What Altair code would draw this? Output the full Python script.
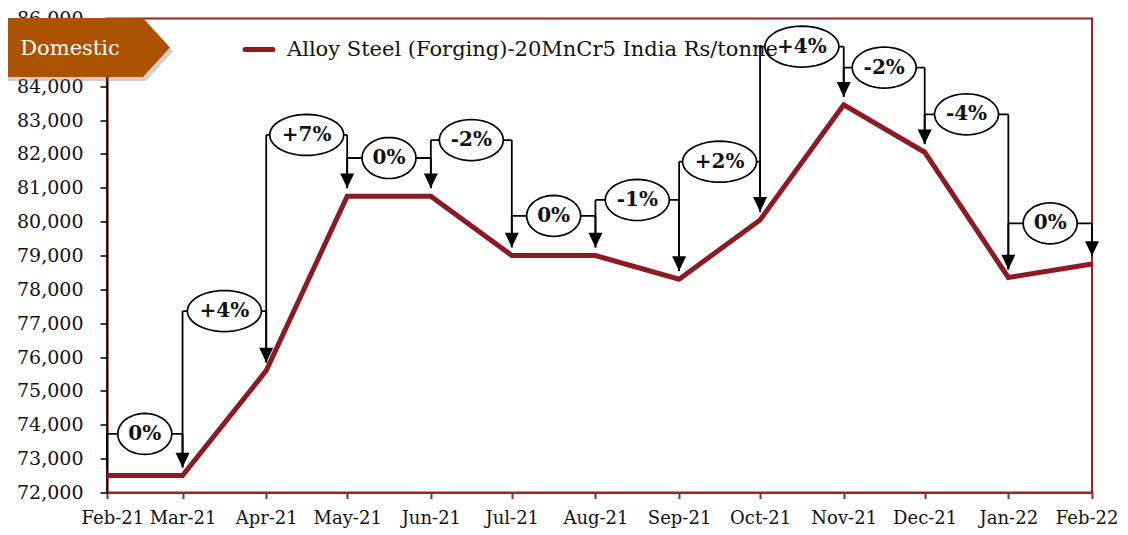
import math
import altair as alt
import pandas as pd

# ---- data ----
months = ["2021-02-01", "2021-03-01", "2021-04-01", "2021-05-01", "2021-06-01", "2021-07-01",
          "2021-08-01", "2021-09-01", "2021-10-01", "2021-11-01", "2021-12-01", "2022-01-01",
          "2022-02-01"]
prices = [72500, 72500, 75600, 80750, 80750, 79000, 79000, 78300, 80050, 83450, 82050, 78350, 78750]
change_labels = ["0%", "+4%", "+7%", "0%", "-2%", "0%", "-1%", "+2%", "+4%", "-2%", "-4%", "0%"]
bracket_levels = [73730, 77360, 82560, 81880, 82410, 80170, 80640, 81770, 85170, 84550, 83170, 79950]
y_ticks = list(range(72000, 86001, 1000))
series_name = "Alloy Steel (Forging)-20MnCr5 India Rs/tonne"
tag_text = "Domestic"

LINE = "#8B1A22"
BORDER = "#9B2226"
TAG = "#AB5200"
FONT = "DejaVu Serif"
TIP_GAP = 240  # gap between arrow tip and data point (value units)

dates = [pd.Timestamp(m) for m in months]
iso = [d.strftime("%Y-%m-%dT00:00:00Z") for d in dates]

line_df = pd.DataFrame({"date": iso, "price": prices})

rows = []
for i, lab in enumerate(change_labels):
    d0, d1 = dates[i], dates[i + 1]
    mid = d0 + (d1 - d0) / 2
    if lab.startswith("+"):
        et = "p"
    elif lab.startswith("-"):
        et = "m"
    else:
        et = "z"
    rows.append({
        "x0": iso[i], "x1": iso[i + 1], "mid": mid.strftime("%Y-%m-%dT%H:%M:%SZ"),
        "yb": bracket_levels[i],
        "tip_prev": prices[i] + TIP_GAP, "tip": prices[i + 1] + TIP_GAP,
        "label": lab, "etype": et,
    })
ann = pd.DataFrame(rows)


def ellipse_path(a, n=48):
    pts = []
    for k in range(n):
        t = 2 * math.pi * k / n
        pts.append(f"{a * math.cos(t):.4f},{math.sin(t):.4f}")
    return "M" + " L".join(pts) + " Z"


ELL_H = 41.0
ell_paths = [ellipse_path(54 / ELL_H), ellipse_path(64 / ELL_H), ellipse_path(74 / ELL_H)]

xscale = alt.Scale(type="utc", domain=["2021-02-01T00:00:00Z", "2022-02-01T00:00:00Z"], nice=False)
yscale = alt.Scale(domain=[72000, 86000], nice=False, zero=False)

x_axis = alt.Axis(
    title=None, format="%b-%y", tickCount=alt.TimeIntervalStep(interval="month", step=1),
    domainColor=BORDER, domainWidth=2, tickColor=BORDER, tickWidth=2, tickSize=6,
    labelFont=FONT, labelFontSize=18, labelColor="#111", labelPadding=11, grid=False,
    labelOverlap=False, labelFlush=True, labelFlushOffset=26,
)
y_axis = alt.Axis(
    title=None, values=y_ticks, tickCount=len(y_ticks), format=",.0f", domainColor="#000",
    domainWidth=2, tickColor="#000", tickWidth=1.5, tickSize=7, labelFont=FONT,
    labelFontSize=19, labelColor="#111", labelPadding=17, grid=False, labelOverlap=False,
    labelFlush=False,
)

base_line = alt.Chart(line_df).mark_line(color=LINE, strokeWidth=5, strokeJoin="miter").encode(
    x=alt.X("date:T", scale=xscale, axis=x_axis),
    y=alt.Y("price:Q", scale=yscale, axis=y_axis),
)

annb = alt.Chart(ann)
rule_style = dict(color="#000", strokeWidth=1.8)
horiz = annb.mark_rule(**rule_style).encode(
    x=alt.X("x0:T", scale=xscale), x2="x1:T", y=alt.Y("yb:Q", scale=yscale))
right_leg = annb.mark_rule(**rule_style).encode(
    x=alt.X("x1:T", scale=xscale), y=alt.Y("yb:Q", scale=yscale), y2="tip:Q")
left_leg = annb.mark_rule(**rule_style).encode(
    x=alt.X("x0:T", scale=xscale), y=alt.Y("yb:Q", scale=yscale), y2="tip_prev:Q")
heads = annb.mark_point(filled=True, color="#000", opacity=1, strokeWidth=0,
                        shape="M -1,-2.1 L 1,-2.1 L 0,0 Z", size=196).encode(
    x=alt.X("x1:T", scale=xscale), y=alt.Y("tip:Q", scale=yscale))
ellipses = annb.mark_point(filled=False, fill="#fff", fillOpacity=1, stroke="#000",
                           strokeWidth=1.7, opacity=1, size=ELL_H * ELL_H).encode(
    x=alt.X("mid:T", scale=xscale), y=alt.Y("yb:Q", scale=yscale),
    shape=alt.Shape("etype:N", scale=alt.Scale(domain=["z", "m", "p"], range=ell_paths), legend=None),
)
texts = annb.mark_text(font=FONT, fontSize=20, fontWeight="bold", color="#111",
                       align="center", baseline="middle").encode(
    x=alt.X("mid:T", scale=xscale), y=alt.Y("yb:Q", scale=yscale), text="label:N")

one = alt.Chart(pd.DataFrame({"a": [0]}))
legend_sym = one.mark_rule(color=LINE, strokeWidth=5, strokeCap="round").encode(
    x=alt.value(138), x2=alt.value(166), y=alt.value(31))
legend_txt = one.mark_text(font=FONT, fontSize=21, color="#111", align="left",
                           baseline="middle").encode(
    x=alt.value(180), y=alt.value(31), text=alt.value(series_name))

tag_path = "M -5,-1 L 0,-1 L 0.915,0 L 0,1 L -5,1 Z"
tag_shadow = one.mark_point(filled=True, color="#777", opacity=0.35, strokeWidth=0,
                            shape=tag_path, size=3481).encode(x=alt.value(39), y=alt.value(33))
tag = one.mark_point(filled=True, color=TAG, opacity=1, strokeWidth=0,
                     shape=tag_path, size=3481).encode(x=alt.value(36), y=alt.value(29))
tag_txt = one.mark_text(font=FONT, fontSize=21, color="#fff", align="center",
                        baseline="middle").encode(x=alt.value(-37), y=alt.value(30),
                                                  text=alt.value(tag_text))

chart = alt.layer(
    base_line, horiz, right_leg, left_leg, heads, ellipses, texts,
    legend_sym, legend_txt, tag_shadow, tag, tag_txt,
).properties(
    width=985, height=474,
    padding={"left": 99, "top": 10.5, "right": 28, "bottom": 35},
    autosize=alt.AutoSizeParams(type="none"),
).configure_view(stroke=BORDER, strokeWidth=2)

chart.save("out.html", embed_options={"renderer": "svg", "actions": False})
